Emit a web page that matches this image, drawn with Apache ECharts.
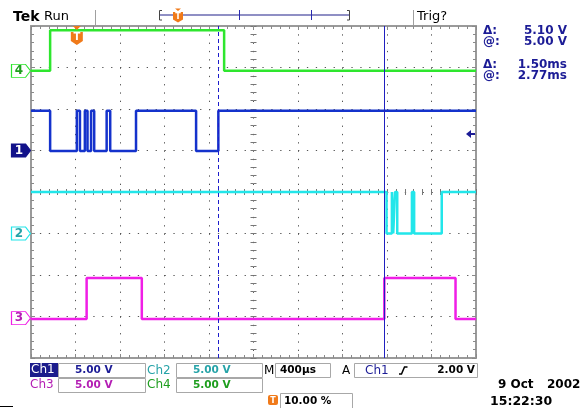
<!DOCTYPE html>
<html>
<head>
<meta charset="utf-8">
<script src="https://cdn.jsdelivr.net/npm/echarts@6/dist/echarts.min.js"></script>
<style>
  html, body { margin: 0; padding: 0; background: #fff; }
  #chart { width: 582px; height: 408px; }
</style>
</head>
<body>
<div id="chart"></div>
<script>
// screen = 10 x 8 divisions, centre at (5, 0)
const xMin = 0, xMax = 10;
const yMin = -4, yMax = 4;

// edge times (div) and [low, high] levels (div from centre)
const ch1Edges = [0.43, 1.03, 1.10, 1.21, 1.27, 1.35, 1.42, 1.70, 1.78, 2.36, 3.71, 4.21];
const ch1Start = 1;
const ch1Levels = [0.99, 1.96];
const ch2Edges = [7.99, 8.11, 8.14, 8.18, 8.23, 8.56, 8.61, 9.23];
const ch2Start = 1;
const ch2Levels = [-1.0, 0.0];
const ch3Edges = [1.25, 2.49, 7.94, 9.54];
const ch3Start = 0;
const ch3Levels = [-3.06, -2.07];
const ch4Edges = [0.43, 4.34];
const ch4Start = 0;
const ch4Levels = [2.92, 3.9];

const groundLevels = [1.0, -1.0, -3.04, 2.92]; // ch1..ch4 markers
const trigPos = 1.03;
const trigLevel = 1.4;
const cursorA = 4.21;
const cursorB = 7.94;

const C1 = "#1432cc", C2 = "#22e6ea", C3 = "#f01ee6", C4 = "#2ee62e";
const T1 = "#1c1c96", T2 = "#26a3a8", T3 = "#b41eb4", T4 = "#1e9e1e";
const ORANGE = "#f07a1a";
const F = '"DejaVu Sans", sans-serif';

function stepData(edges, start, levels) {
  let s = start;
  const pts = [[xMin, levels[s]]];
  edges.forEach((e) => {
    pts.push([e, levels[s]]);
    s = 1 - s;
    pts.push([e, levels[s]]);
  });
  pts.push([xMax, levels[s]]);
  return pts;
}

const groundPath = "path://M0,0 L14,0 L19,6.5 L14,13 L0,13 Z";
function groundMarker(ch, color, textColor, filled) {
  return {
    coord: [xMin, groundLevels[ch - 1]],
    symbol: groundPath,
    symbolSize: [19, 13],
    symbolOffset: [-10, 0],
    itemStyle: { color: filled ? color : "#fff", borderColor: color, borderWidth: 1 },
    label: { show: true, formatter: String(ch), color: textColor, fontSize: 12, fontWeight: "bold", fontFamily: F, offset: [-2, 0] },
  };
}

const border = { show: true, onZero: false, lineStyle: { color: "#9a9a9a", width: 2 } };
const ticks = { show: true, inside: true, length: 4, lineStyle: { color: "#8a8a8a" } };
const minor = { show: true, splitNumber: 5, length: 3, lineStyle: { color: "#8a8a8a" } };
const noLine = { show: false, onZero: false };
const cTicks = { show: true, inside: true, length: 3, lineStyle: { color: "#777" } };
const cMinor = { show: true, splitNumber: 5, length: 3, lineStyle: { color: "#777" } };

function xAx(grid, pos, extra) {
  return Object.assign({ type: "value", gridIndex: grid, position: pos, min: xMin, max: xMax, interval: 1,
    axisLabel: { show: false }, splitLine: { show: false } }, extra);
}
function yAx(grid, pos, extra) {
  return Object.assign({ type: "value", gridIndex: grid, position: pos, min: yMin, max: yMax, interval: 1,
    axisLabel: { show: false }, splitLine: { show: false } }, extra);
}

const series = [
  {
    name: "Ch4", type: "line", data: stepData(ch4Edges, ch4Start, ch4Levels),
    showSymbol: false, lineStyle: { color: C4, width: 2.5 }, z: 3,
    markPoint: { animation: false, silent: true, data: [groundMarker(4, C4, T4, false)] },
  },
  {
    name: "Ch1", type: "line", data: stepData(ch1Edges, ch1Start, ch1Levels),
    showSymbol: false, lineStyle: { color: C1, width: 2.5 }, z: 4,
    markLine: {
      symbol: "none", silent: true, animation: false, label: { show: false },
      data: [
        { xAxis: cursorA, lineStyle: { type: [4, 3], color: "#1c1ccc", width: 1 } },
        { xAxis: cursorB, lineStyle: { type: "solid", color: "#2020c0", width: 1 } },
      ],
    },
    markPoint: {
      animation: false, silent: true,
      data: [
        groundMarker(1, "#12128a", "#fff", true),
        {
          coord: [xMax, trigLevel],
          symbol: "path://M0,4 L5,0 L5,3 L9,3 L9,5 L5,5 L5,8 Z",
          symbolSize: [9, 8], symbolOffset: [-5.5, 0],
          itemStyle: { color: "#1c1c96" }, label: { show: false },
        },
        {
          coord: [trigPos, yMax],
          symbol: "path://M2,0 L10,0 L6,4 Z M0,6 L12,6 L12,15 L6,19 L0,15 Z",
          symbolSize: [12, 19], symbolOffset: [0, 9.5],
          itemStyle: { color: ORANGE },
          label: { show: true, formatter: "T", color: "#fff", fontSize: 10, fontWeight: "bold", fontFamily: F, offset: [0, 2] },
        },
      ],
    },
  },
  {
    name: "Ch2", type: "line", data: stepData(ch2Edges, ch2Start, ch2Levels),
    showSymbol: false, lineStyle: { color: C2, width: 2.5 }, z: 3,
    markPoint: { animation: false, silent: true, data: [groundMarker(2, C2, T2, false)] },
  },
  {
    name: "Ch3", type: "line", data: stepData(ch3Edges, ch3Start, ch3Levels),
    showSymbol: false, lineStyle: { color: C3, width: 2.5 }, z: 3,
    markPoint: { animation: false, silent: true, data: [groundMarker(3, C3, T3, false)] },
  },
];

function txt(x, y, s, color, font, align) {
  return { type: "text", x: x, y: y, z: 10,
    style: { text: s, fill: color, font: font, align: align || "left", verticalAlign: "middle" } };
}
function box(x, y, w, h, fill) {
  return { type: "rect", z: 9, shape: { x: x, y: y, width: w, height: h },
    style: fill ? { fill: fill } : { fill: "none", stroke: "#a8a8a8", lineWidth: 1 } };
}
function seg(x1, y1, x2, y2, color, w) {
  return { type: "line", z: 9, shape: { x1: x1, y1: y1, x2: x2, y2: y2 }, style: { stroke: color, lineWidth: w || 1 } };
}

const bold = "bold 12px " + F;
const reg = "12px " + F;
const graphic = [
  // header
  txt(13, 17, "Tek", "#000", "bold 14px " + F),
  txt(44, 17, "Run", "#000", "13px " + F),
  seg(95.5, 10, 95.5, 25, "#a0a0a0"),
  seg(159, 15, 350, 15, "#6a6ab0", 1.5),
  { type: "polyline", z: 9, shape: { points: [[162, 10.5], [159.5, 10.5], [159.5, 20], [162, 20]] }, style: { stroke: "#444", fill: null } },
  { type: "polyline", z: 9, shape: { points: [[347, 10.5], [349.5, 10.5], [349.5, 20], [347, 20]] }, style: { stroke: "#444", fill: null } },
  seg(239.5, 10, 239.5, 20, "#2a2ab0"),
  seg(311.5, 10, 311.5, 20, "#2a2ab0"),
  { type: "polygon", z: 9, shape: { points: [[175, 8.5], [181, 8.5], [178, 11]] }, style: { fill: ORANGE } },
  { type: "polygon", z: 9, shape: { points: [[173, 12], [183, 12], [183, 19.5], [178, 22.5], [173, 19.5]] }, style: { fill: ORANGE } },
  txt(178, 16.5, "T", "#fff", "bold 8px " + F, "center"),
  seg(413.5, 10, 413.5, 25, "#a0a0a0"),
  txt(417, 17, "Trig?", "#000", "13px " + F),
  // cursor readouts
  txt(483, 31, "Δ:", T1, bold),
  txt(567, 31, "5.10 V", T1, bold, "right"),
  txt(483, 41.5, "@:", T1, bold),
  txt(567, 41.5, "5.00 V", T1, bold, "right"),
  txt(483, 65, "Δ:", T1, bold),
  txt(567, 65, "1.50ms", T1, bold, "right"),
  txt(483, 75.5, "@:", T1, bold),
  txt(567, 75.5, "2.77ms", T1, bold, "right"),
  // bottom row 1
  box(30, 363, 28, 14, "#1c1c8c"),
  txt(31, 370, "Ch1", "#fff", reg),
  box(58.5, 363.5, 87, 14),
  txt(75, 370.5, "5.00 V", T1, "bold 10.5px " + F),
  txt(147, 370.5, "Ch2", T2, reg),
  box(176.5, 363.5, 86, 14),
  txt(193, 370.5, "5.00 V", T2, "bold 10.5px " + F),
  txt(264, 370.5, "M", "#000", reg),
  box(275.5, 363.5, 55, 14),
  txt(280, 370.5, "400µs", "#000", "bold 10.5px " + F),
  txt(342, 370.5, "A", "#000", reg),
  box(354.5, 363.5, 123, 14),
  txt(365, 370.5, "Ch1", T1, reg),
  { type: "polyline", z: 10, shape: { points: [[399, 374], [401.5, 374], [404.5, 367], [407.5, 367]] }, style: { stroke: "#000", lineWidth: 1.5, fill: null } },
  txt(475, 370.5, "2.00 V", "#000", "bold 10.5px " + F, "right"),
  // bottom row 2
  txt(30, 385, "Ch3", T3, reg),
  box(58.5, 378.5, 87, 14),
  txt(75, 385.5, "5.00 V", T3, "bold 10.5px " + F),
  txt(147, 385, "Ch4", T4, reg),
  box(176.5, 378.5, 86, 14),
  txt(193, 385.5, "5.00 V", T4, "bold 10.5px " + F),
  // bottom row 3
  { type: "rect", z: 9, shape: { x: 268, y: 395, width: 10, height: 10, r: 2 }, style: { fill: ORANGE } },
  txt(273, 400.5, "T", "#fff", "bold 8px " + F, "center"),
  box(280.5, 393.5, 72, 16),
  txt(284, 401.5, "10.00 %", "#000", "bold 10.5px " + F),
  txt(498, 385, "9 Oct", "#000", "bold 12px " + F),
  txt(547, 385, "2002", "#000", "bold 12px " + F),
  txt(490, 401.5, "15:22:30", "#000", "bold 12.5px " + F),
  seg(0, 406.5, 13, 406.5, "#000"),
];

const option = {
  animation: false,
  backgroundColor: "#fff",
  grid: [
    { left: 31, top: 26, width: 445, height: 332 },
    { left: 31, top: 26, width: 445, height: 166 },
    { left: 31, top: 192, width: 445, height: 166 },
    { left: 31, top: 26, width: 222.5, height: 332 },
    { left: 253.5, top: 26, width: 222.5, height: 332 },
  ],
  xAxis: [
    xAx(0, "bottom", { axisLine: border, axisTick: ticks, minorTick: minor,
      splitLine: { show: true, lineStyle: { color: "#555", width: 1, type: [1.3, 7.0] } } }),
    xAx(0, "top", { axisLine: border, axisTick: ticks, minorTick: minor }),
    xAx(1, "bottom", { axisLine: noLine, axisTick: cTicks, minorTick: cMinor }),
    xAx(2, "top", { axisLine: noLine, axisTick: cTicks, minorTick: cMinor }),
    xAx(3, "bottom", { show: false, axisLine: noLine }),
    xAx(4, "bottom", { show: false, axisLine: noLine }),
  ],
  yAxis: [
    yAx(0, "left", { axisLine: border, axisTick: ticks, minorTick: minor,
      splitLine: { show: true, lineStyle: { color: "#555", width: 1, type: [1.3, 7.6] } } }),
    yAx(0, "right", { axisLine: border, axisTick: ticks, minorTick: minor }),
    yAx(1, "left", { show: false, axisLine: noLine }),
    yAx(2, "left", { show: false, axisLine: noLine }),
    yAx(3, "right", { axisLine: noLine, axisTick: cTicks, minorTick: cMinor }),
    yAx(4, "left", { axisLine: noLine, axisTick: cTicks, minorTick: cMinor }),
  ],
  series: series,
  graphic: graphic,
};

const chart = echarts.init(document.getElementById("chart"));
chart.setOption(option);
window.addEventListener("resize", () => chart.resize());
</script>
</body>
</html>
